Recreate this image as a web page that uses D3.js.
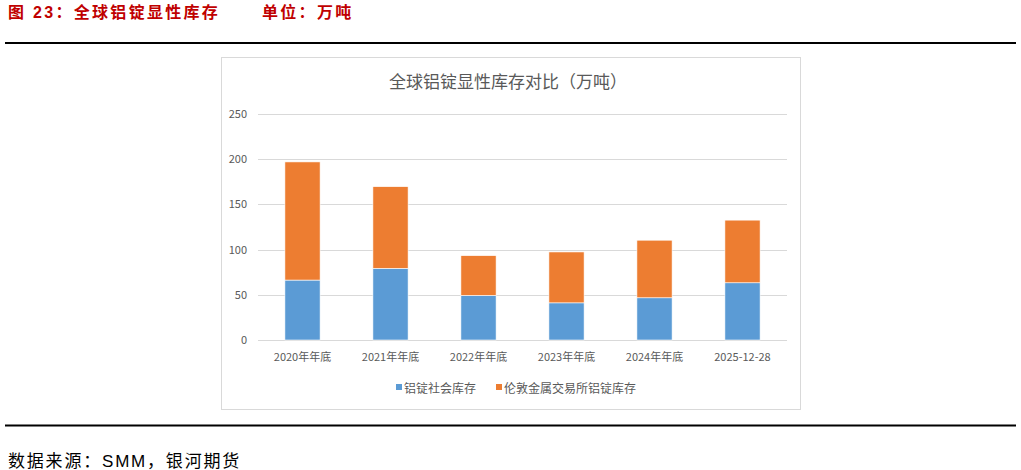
<!DOCTYPE html>
<html>
<head>
<meta charset="utf-8">
<script src="https://cdn.jsdelivr.net/npm/d3@7"></script>
<style>
  body { margin: 0; background: #fff; }
  svg { display: block; }
</style>
</head>
<body>
<svg id="chart"></svg>
<script>
// Data
const categories = ["2020年年底", "2021年年底", "2022年年底", "2023年年底", "2024年年底", "2025-12-28"];
const socialStock = [66.3, 79.3, 49.3, 41.1, 46.7, 63.3];
const lmeStock = [130.7, 90.3, 44.0, 56.3, 63.7, 69.3];
const seriesNames = ["铝锭社会库存", "伦敦金属交易所铝锭库存"];
const yTicks = [0, 50, 100, 150, 200, 250];

const width = 1021;
const height = 470;
const colors = ["#5b9bd5", "#ed7d31"];
const cjk = "'Noto Sans CJK SC', 'Microsoft YaHei', sans-serif";
const headFont = "'Liberation Sans', Arial, 'Noto Sans CJK SC', sans-serif";

const svg = d3.select("#chart")
    .attr("width", width)
    .attr("height", height);

// Report header
svg.append("text")
    .attr("x", 8).attr("y", 18)
    .style("font-family", headFont)
    .style("font-size", "16px")
    .style("font-weight", "bold")
    .style("letter-spacing", "2.3px")
    .style("fill", "#c00000")
    .text("图 23：全球铝锭显性库存");

svg.append("text")
    .attr("x", 262).attr("y", 18)
    .style("font-family", headFont)
    .style("font-size", "16px")
    .style("font-weight", "bold")
    .style("letter-spacing", "2.3px")
    .style("fill", "#c00000")
    .text("单位：万吨");

svg.append("line")
    .attr("x1", 5).attr("x2", 1016)
    .attr("y1", 43).attr("y2", 43)
    .style("stroke", "#000").style("stroke-width", 2);

svg.append("line")
    .attr("x1", 5).attr("x2", 1016)
    .attr("y1", 425.5).attr("y2", 425.5)
    .style("stroke", "#000").style("stroke-width", 2);

svg.append("text")
    .attr("x", 8).attr("y", 467)
    .style("font-family", headFont)
    .style("font-size", "17px")
    .style("letter-spacing", "1.8px")
    .style("fill", "#000")
    .text("数据来源：SMM，银河期货");

// Chart frame
svg.append("rect")
    .attr("x", 221.5).attr("y", 57.5)
    .attr("width", 579).attr("height", 352)
    .style("fill", "#fff")
    .style("stroke", "#d9d9d9")
    .style("stroke-width", 1);

svg.append("text")
    .attr("x", 508).attr("y", 88)
    .attr("text-anchor", "middle")
    .style("font-family", cjk)
    .style("font-size", "17px")
    .style("fill", "#595959")
    .text("全球铝锭显性库存对比（万吨）");

// Scales
const x = d3.scaleBand()
    .domain(categories)
    .range([258.5, 786.5])
    .paddingInner(0.6)
    .paddingOuter(0.3);

const y = d3.scaleLinear()
    .domain([0, 250])
    .range([340, 114]);

// Gridlines
svg.append("g")
    .selectAll("line")
    .data(yTicks)
    .enter()
    .append("line")
    .attr("x1", 258).attr("x2", 787)
    .attr("y1", d => Math.round(y(d)) + 0.5)
    .attr("y2", d => Math.round(y(d)) + 0.5)
    .style("stroke", "#d9d9d9")
    .style("stroke-width", 1);

// Y axis labels
svg.append("g")
    .selectAll("text")
    .data(yTicks)
    .enter()
    .append("text")
    .attr("x", 247)
    .attr("y", d => y(d) + 4)
    .attr("text-anchor", "end")
    .style("font-family", cjk)
    .style("font-size", "11px")
    .style("fill", "#595959")
    .text(d => d);

// Stacked bars
const rows = categories.map((c, i) => ({ cat: c, social: socialStock[i], lme: lmeStock[i] }));
const stacked = d3.stack().keys(["social", "lme"])(rows);

svg.append("g")
    .selectAll("g")
    .data(stacked)
    .enter()
    .append("g")
    .style("fill", (d, i) => colors[i])
    .selectAll("rect")
    .data(d => d)
    .enter()
    .append("rect")
    .attr("x", d => x(d.data.cat))
    .attr("width", x.bandwidth())
    .attr("y", d => y(d[1]))
    .attr("height", d => y(d[0]) - y(d[1]))
    .style("stroke", "#fff")
    .style("stroke-width", 0.6);

// X labels
svg.append("g")
    .selectAll("text")
    .data(categories)
    .enter()
    .append("text")
    .attr("x", d => x(d) + x.bandwidth() / 2)
    .attr("y", 361)
    .attr("text-anchor", "middle")
    .style("font-family", cjk)
    .style("font-size", "11px")
    .style("fill", "#595959")
    .text(d => d);

// Legend
const legendX = [396, 496];
const legend = svg.append("g")
    .selectAll("g")
    .data(seriesNames)
    .enter()
    .append("g")
    .attr("transform", (d, i) => `translate(${legendX[i]},389)`);

legend.append("rect")
    .attr("x", 0).attr("y", -5)
    .attr("width", 6).attr("height", 6)
    .style("fill", (d, i) => colors[i]);

legend.append("text")
    .attr("x", 8).attr("y", 4)
    .style("font-family", cjk)
    .style("font-size", "12px")
    .style("fill", "#595959")
    .text(d => d);
</script>
</body>
</html>
